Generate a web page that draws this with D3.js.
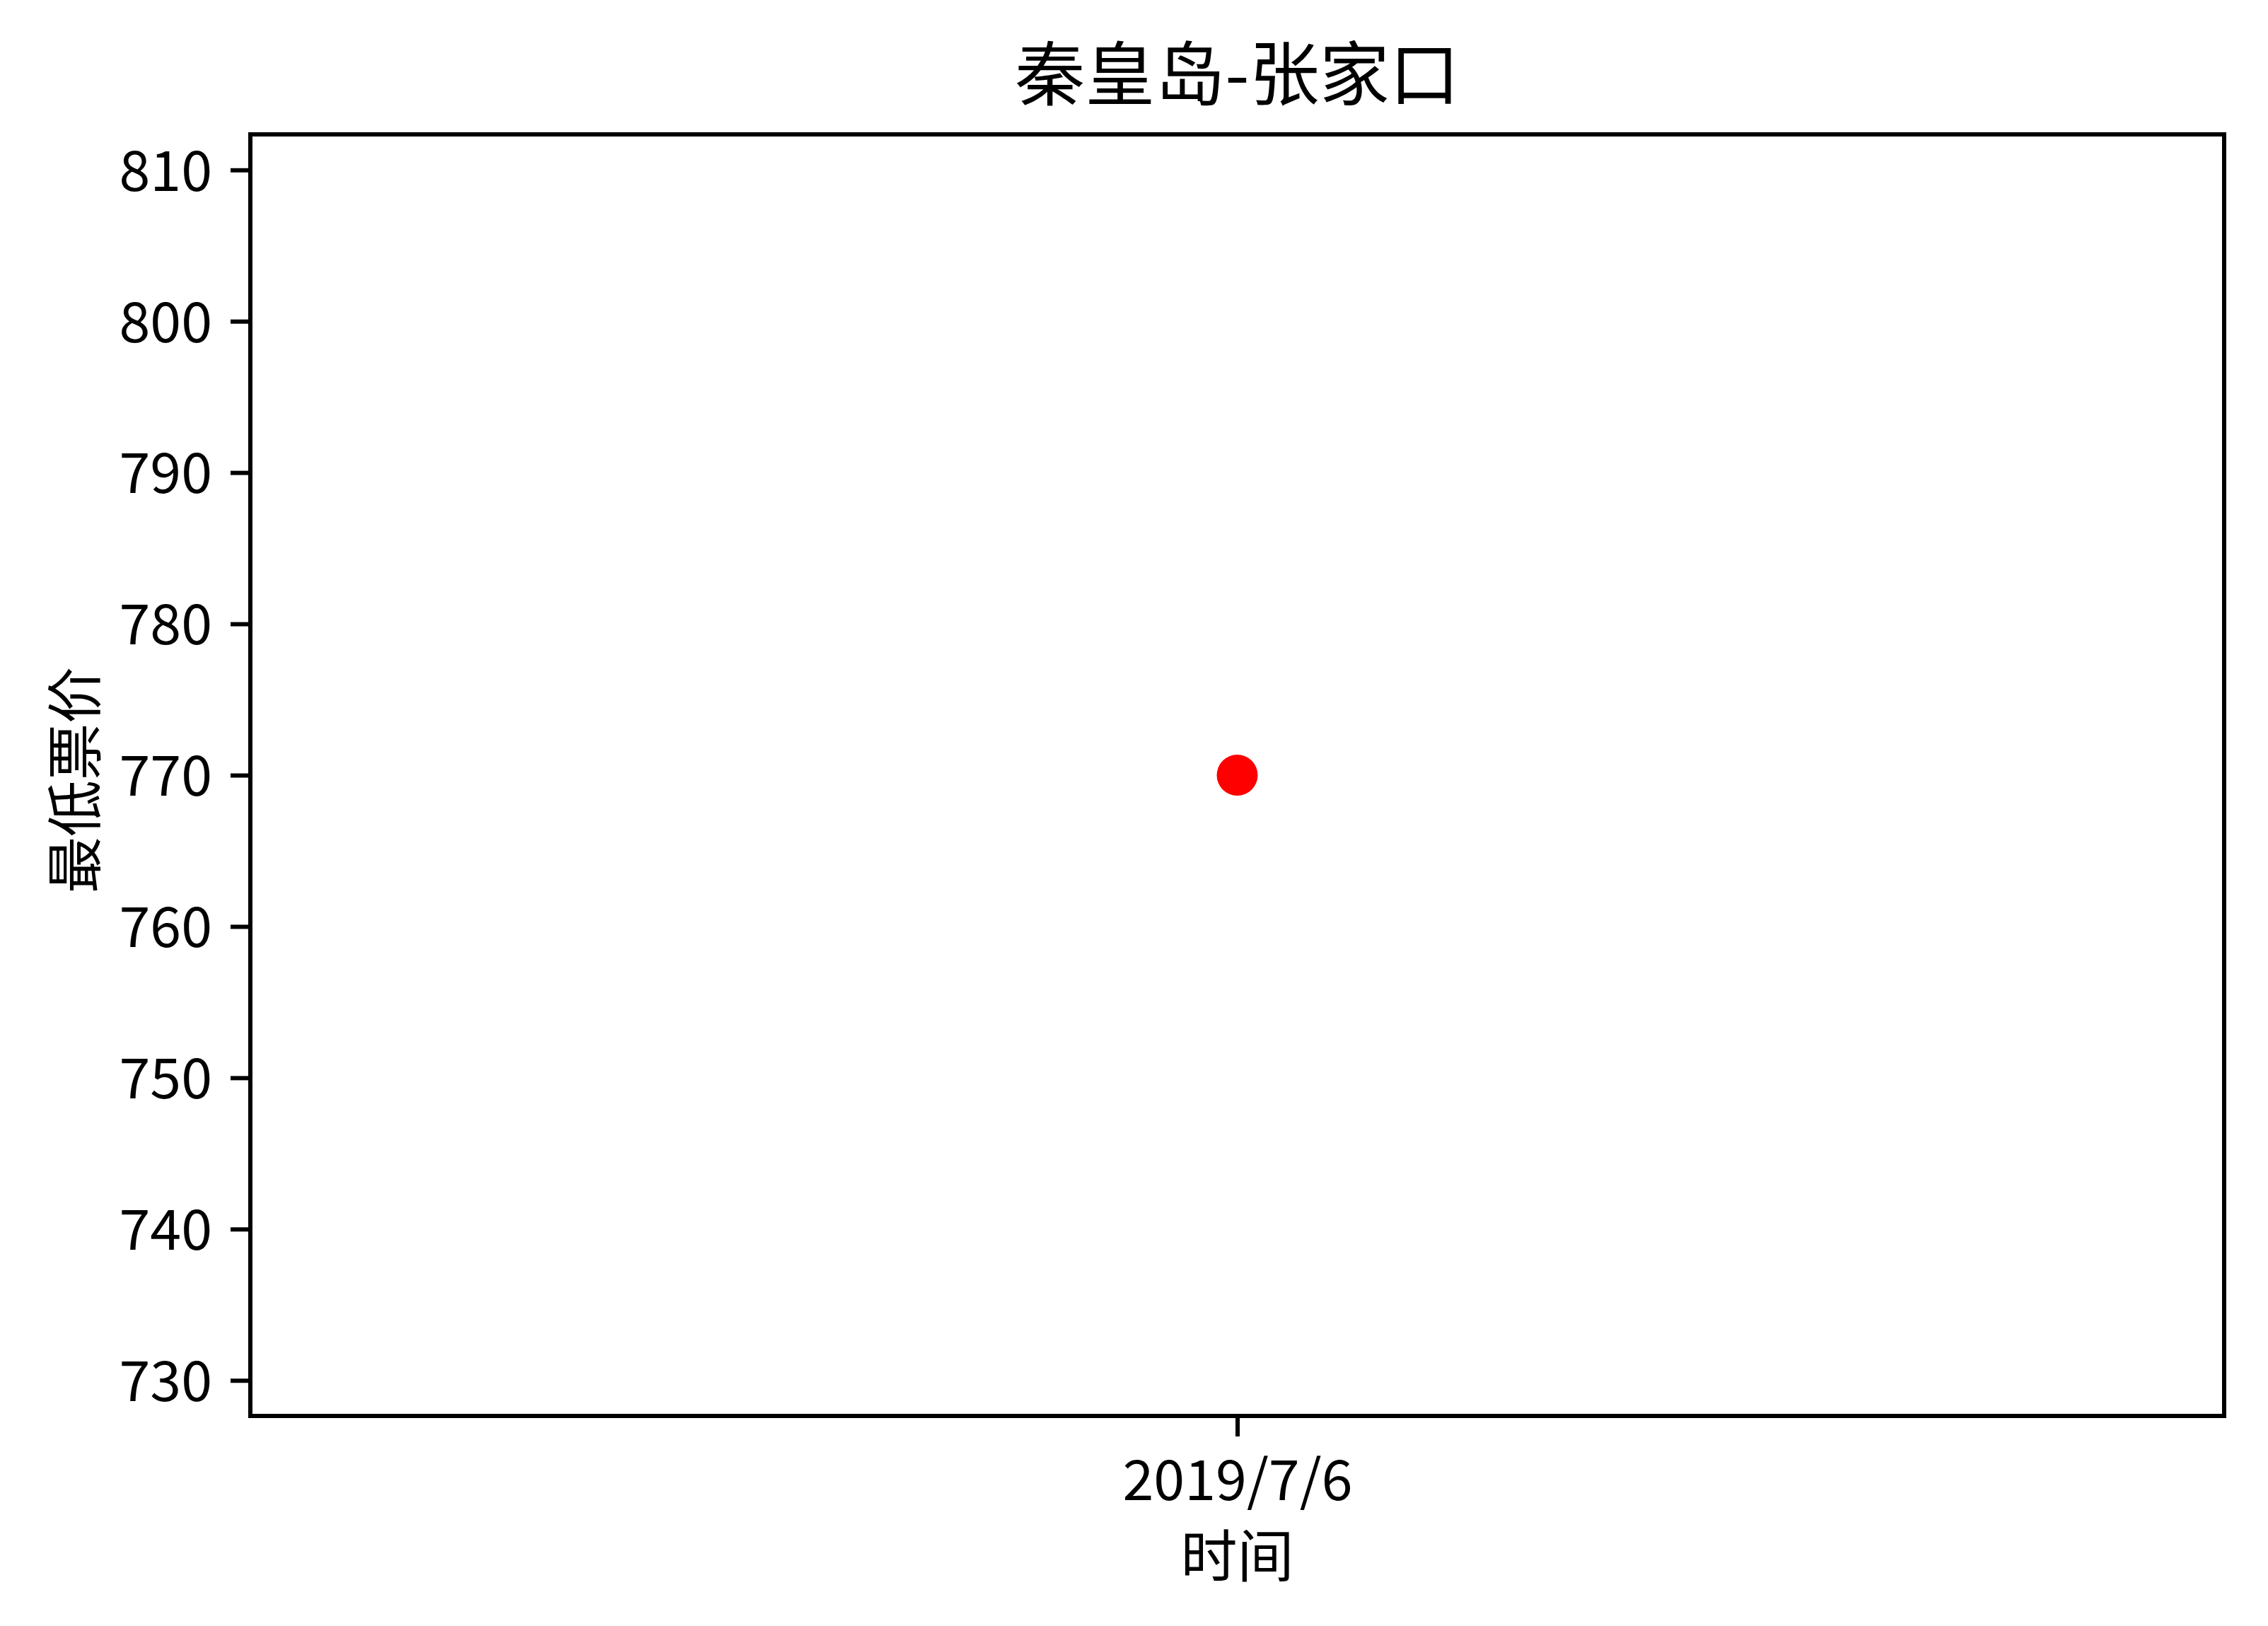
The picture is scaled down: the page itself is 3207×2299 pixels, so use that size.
<!DOCTYPE html>
<html>
<head>
<meta charset="utf-8">
<script src="https://cdn.jsdelivr.net/npm/d3@7"></script>
<style>
  html, body { margin: 0; padding: 0; background: #fff; }
  svg { display: block; }
  text { font-family: "Noto Sans CJK SC", "Noto Sans", sans-serif; fill: #000; }
</style>
</head>
<body>
<script>
// ---- data ----
const dates = ["2019/7/6"];
const prices = [770];
const yTicks = [730, 740, 750, 760, 770, 780, 790, 800, 810];
const yDomain = [727.65, 812.35];
const title = "秦皇岛-张家口";
const xLabel = "时间";
const yLabel = "最低票价";

const W = 3207, H = 2299;
const m = { left: 354, right: 3145, top: 190, bottom: 2002 };

const svg = d3.select("body").append("svg")
  .attr("width", W).attr("height", H);

const x = d3.scalePoint().domain(dates).range([m.left, m.right]).padding(0.5);
const y = d3.scaleLinear().domain(yDomain).range([m.bottom, m.top]);

const tickFont = 79;
const lw = 6;

// y axis
const gy = svg.append("g").attr("transform", `translate(${m.left},0)`)
  .call(d3.axisLeft(y).tickValues(yTicks).tickSize(28).tickPadding(26).tickFormat(d3.format("d")));
gy.select(".domain").remove();
gy.selectAll(".tick line").attr("stroke", "#000").attr("stroke-width", lw);
gy.selectAll(".tick text").attr("font-size", tickFont).attr("dy", "0.365em")
  .style("font-family", '"Noto Sans CJK SC", sans-serif');

// x axis
const gx = svg.append("g").attr("transform", `translate(0,${m.bottom})`)
  .call(d3.axisBottom(x).tickSize(29).tickPadding(0));
gx.select(".domain").remove();
gx.selectAll(".tick line").attr("stroke", "#000").attr("stroke-width", lw);
gx.selectAll(".tick text").attr("font-size", tickFont).attr("y", 119).attr("dy", 0)
  .style("font-family", '"Noto Sans CJK SC", sans-serif');

// frame
svg.append("rect")
  .attr("x", m.left).attr("y", m.top)
  .attr("width", m.right - m.left).attr("height", m.bottom - m.top)
  .attr("fill", "none").attr("stroke", "#000").attr("stroke-width", lw);

// points
svg.append("g").selectAll("circle")
  .data(dates.map((d, i) => ({ d, v: prices[i] })))
  .join("circle")
  .attr("cx", p => x(p.d)).attr("cy", p => y(p.v))
  .attr("r", 29).attr("fill", "#ff0000");

// title
svg.append("text")
  .attr("x", (m.left + m.right) / 2).attr("y", 141)
  .attr("text-anchor", "middle").attr("font-size", 99)
  .text(title);

// x label
svg.append("text")
  .attr("x", (m.left + m.right) / 2).attr("y", 2229)
  .attr("text-anchor", "middle").attr("font-size", 80)
  .text(xLabel);

// y label
svg.append("text")
  .attr("transform", `translate(135, ${(m.top + m.bottom) / 2 + 7}) rotate(-90)`)
  .attr("text-anchor", "middle").attr("font-size", 80)
  .text(yLabel);
</script>
</body>
</html>
